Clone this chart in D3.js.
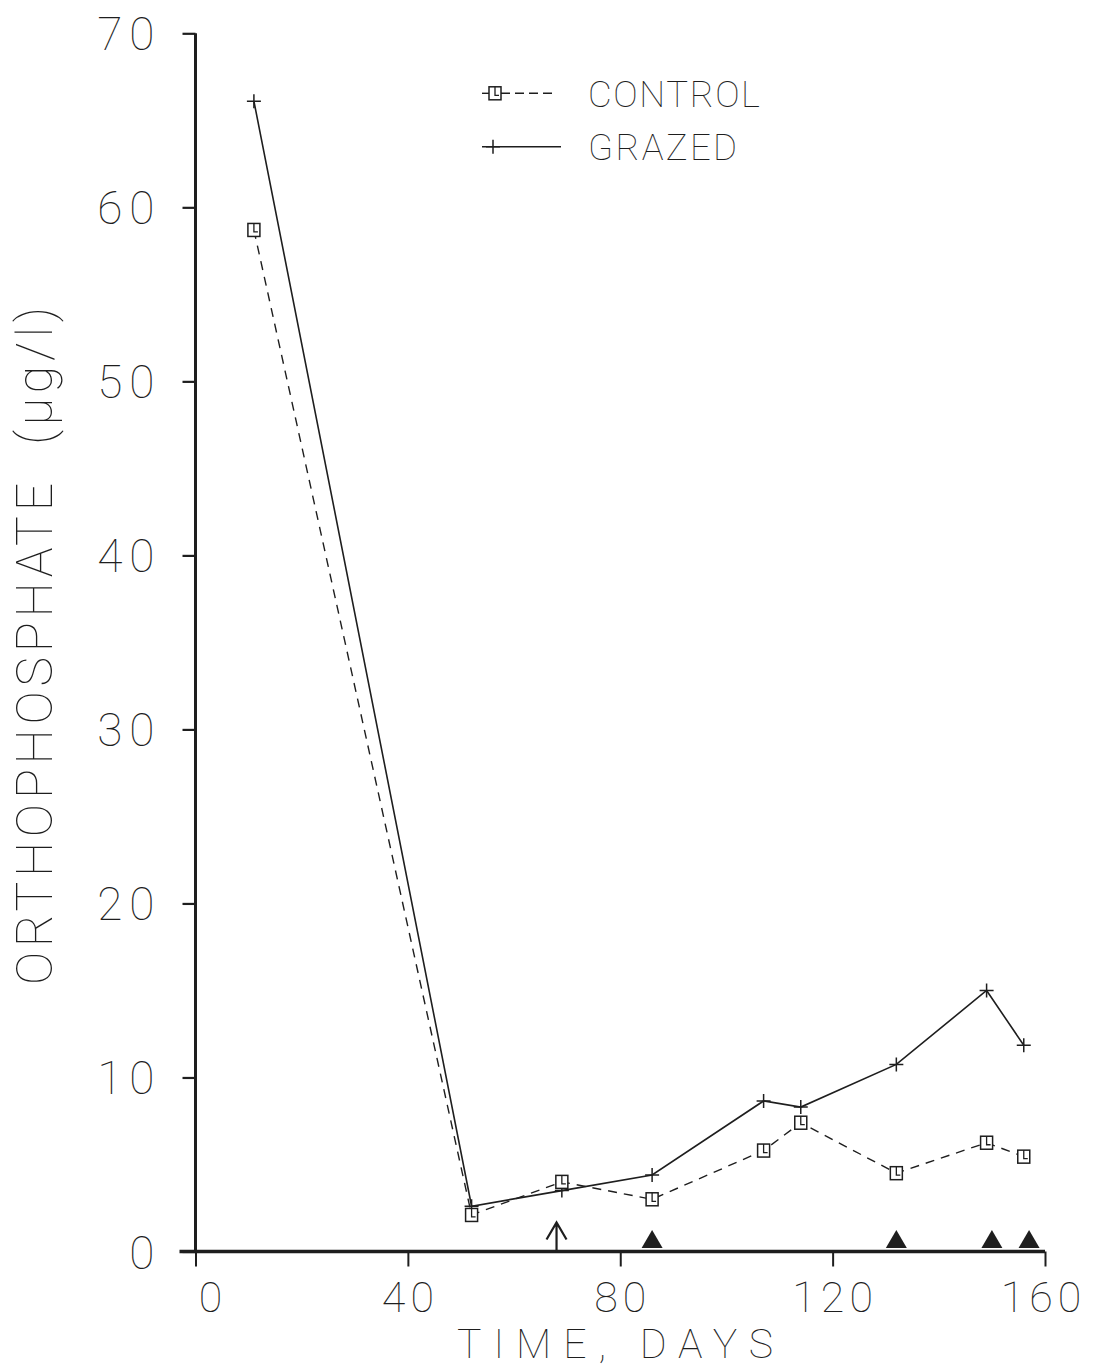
<!DOCTYPE html>
<html><head><meta charset="utf-8">
<script src="https://cdn.jsdelivr.net/npm/d3@7"></script>
<style>
body{margin:0;background:#fff}
text{font-family:Roboto,"DejaVu Sans",sans-serif;font-weight:100;fill:#1e1e1e}
</style>
</head><body>
<svg id="c" width="1093" height="1370"></svg>
<script>
// ---- data ----
const days = [11, 52, 69, 86, 107, 114, 132, 149, 156];
const control = [58.7, 2.1, 4.0, 3.0, 5.8, 7.4, 4.5, 6.25, 5.45];
const grazed = [66.1, 2.6, 3.5, 4.4, 8.65, 8.3, 10.75, 15.0, 11.85];
const triangleDays = [86, 132, 150, 157];
const arrowDays = [68];
const xTicks = [0, 40, 80, 120, 160];
const yTicks = [0, 10, 20, 30, 40, 50, 60, 70];
const seriesNames = ["CONTROL", "GRAZED"];
const xTitle = "TIME, DAYS";
const yTitle = "ORTHOPHOSPHATE  (\u00b5g/l)";

const ink = "#1e1e1e";
const svg = d3.select("#c");
const x = d3.scaleLinear().domain([0, 160]).range([195.5, 1045]);
const y = d3.scaleLinear().domain([0, 70]).range([1251.5, 33.3]);

// ---- y axis ----
const gy = svg.append("g").attr("transform", `translate(${x(0)},0)`)
  .call(d3.axisLeft(y).tickValues(yTicks).tickSize(13).tickPadding(21).tickFormat(d3.format("d")));
gy.select(".domain").remove();
gy.selectAll(".tick line").attr("stroke", ink).attr("stroke-width", 2.2);
gy.selectAll(".tick text").attr("font-size", 46).attr("dy", 0).attr("y", 16.5)
  .attr("letter-spacing", 7).attr("fill", ink).attr("font-family", null);
svg.append("line").attr("x1", x(0)).attr("x2", x(0)).attr("y1", y(70)).attr("y2", y(0))
  .attr("stroke", ink).attr("stroke-width", 3);

// ---- x axis ----
const gx = svg.append("g").attr("transform", `translate(0,${y(0)})`)
  .call(d3.axisBottom(x).tickValues(xTicks).tickSize(15).tickFormat(d3.format("d")));
gx.select(".domain").remove();
gx.selectAll(".tick line").attr("stroke", ink).attr("stroke-width", 2);
gx.selectAll(".tick text").attr("font-size", 43).attr("dy", 0).attr("y", 60)
  .attr("letter-spacing", 5).attr("dx", d => d === 0 ? 17 : (d === 160 ? -2 : 2)).attr("fill", ink).attr("font-family", null);
svg.append("line").attr("x1", x(0) - 16).attr("x2", x(160)).attr("y1", y(0)).attr("y2", y(0))
  .attr("stroke", ink).attr("stroke-width", 3.5);

// ---- titles ----
svg.append("text").attr("x", 457).attr("y", 1358).attr("font-size", 41)
  .attr("textLength", 316).attr("lengthAdjust", "spacing").text(xTitle);
svg.append("text").attr("transform", "translate(52,985) rotate(-90)")
  .attr("font-size", 50).attr("textLength", 678).attr("lengthAdjust", "spacing")
  .attr("xml:space", "preserve").style("white-space", "pre").text(yTitle);

// ---- lines ----
const pts = vals => days.map((d, i) => [d, vals[i]]);
const line = d3.line().x(d => x(d[0])).y(d => y(d[1]));
svg.append("path").attr("d", line(pts(control))).attr("fill", "none")
  .attr("stroke", ink).attr("stroke-width", 1.4).attr("stroke-dasharray", "9,7");
svg.append("path").attr("d", line(pts(grazed))).attr("fill", "none")
  .attr("stroke", ink).attr("stroke-width", 1.6);

// markers
function square(g, cx, cy) {
  g.append("rect").attr("x", cx - 6).attr("y", cy - 6.5).attr("width", 12).attr("height", 13)
    .attr("fill", "#fff").attr("stroke", ink).attr("stroke-width", 1.5);
  g.append("path").attr("d", `M${cx},${cy - 6.5}V${cy + 2}H${cx + 4}`)
    .attr("fill", "none").attr("stroke", ink).attr("stroke-width", 1.3);
}
function plus(g, cx, cy) {
  g.append("path").attr("d", `M${cx - 7},${cy}H${cx + 7}M${cx},${cy - 7}V${cy + 7}`)
    .attr("stroke", ink).attr("stroke-width", 1.5);
}
const gm = svg.append("g");
pts(grazed).forEach(p => plus(gm, x(p[0]), y(p[1])));
pts(control).forEach(p => square(gm, x(p[0]), y(p[1])));

// triangles on axis
triangleDays.forEach(d => {
  const cx = x(d), b = y(0) - 3.5;
  svg.append("path").attr("d", `M${cx - 10.5},${b}L${cx},${b - 18}L${cx + 10.5},${b}Z`).attr("fill", ink);
});
// arrow
arrowDays.forEach(d => {
  const cx = x(d);
  svg.append("path").attr("d", `M${cx},${y(0)}V${y(0) - 29}M${cx - 10},${y(0) - 12}L${cx},${y(0) - 29}L${cx + 10},${y(0) - 12}`)
    .attr("fill", "none").attr("stroke", ink).attr("stroke-width", 2.2);
});

// ---- legend ----
const lg = svg.append("g");
lg.append("line").attr("x1", 482).attr("x2", 562).attr("y1", 93.3).attr("y2", 93.3)
  .attr("stroke", ink).attr("stroke-width", 1.4).attr("stroke-dasharray", "0,19,9,5,9,5,9,5,9,5");
lg.append("line").attr("x1", 482).attr("x2", 490).attr("y1", 93.3).attr("y2", 93.3)
  .attr("stroke", ink).attr("stroke-width", 1.4);
square(lg, 495, 93.3);
lg.append("line").attr("x1", 482).attr("x2", 561).attr("y1", 146.7).attr("y2", 146.7)
  .attr("stroke", ink).attr("stroke-width", 1.6);
plus(lg, 493, 146.7);
lg.append("text").attr("x", 588).attr("y", 106.7).attr("font-size", 36.6)
  .attr("textLength", 172).attr("lengthAdjust", "spacing").text(seriesNames[0]);
lg.append("text").attr("x", 588).attr("y", 160).attr("font-size", 36.6)
  .attr("textLength", 149).attr("lengthAdjust", "spacing").text(seriesNames[1]);
</script>
</body></html>
